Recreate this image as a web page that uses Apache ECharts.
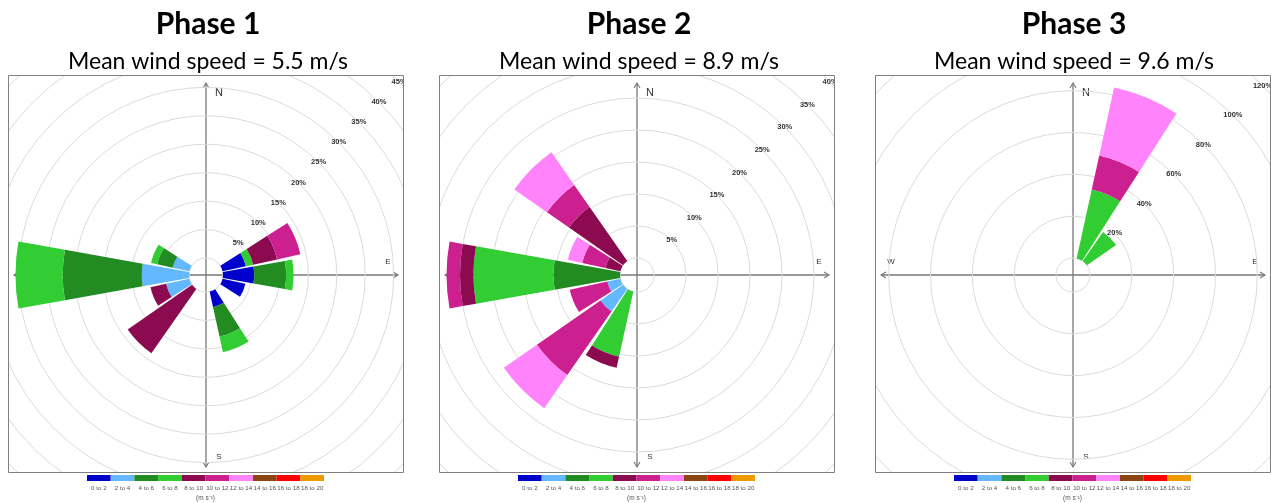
<!DOCTYPE html>
<html>
<head>
<meta charset="utf-8">
<script src="https://cdn.jsdelivr.net/npm/echarts@6/dist/echarts.min.js"></script>
<style>
  body { margin: 0; background: #fff; }
  #page { position: relative; width: 1271px; height: 503px; }
  .box { position: absolute; top: 75px; width: 396px; height: 398px; }
</style>
</head>
<body>
<div id="page">
  <div id="bg" style="position:absolute;left:0;top:0;width:1271px;height:503px"></div>
  <div id="rose1" class="box" style="left:8px"></div>
  <div id="rose2" class="box" style="left:439px"></div>
  <div id="rose3" class="box" style="left:875px"></div>
</div>
<script>
const directions = ["N", "NNE", "NE", "ENE", "E", "ESE", "SE", "SSE", "S", "SSW", "SW", "WSW", "W", "WNW", "NW", "NNW"];
const speedBins = ["0 to 2", "2 to 4", "4 to 6", "6 to 8", "8 to 10", "10 to 12", "12 to 14", "14 to 16", "16 to 18", "18 to 20"];
const binColors = ["#0000cd", "#63b8ff", "#228b22", "#32cd32", "#8b0a50", "#cd2090", "#ff83fa", "#8b4513", "#ff0000", "#ee9a00"];

const phaseTitles = ["Phase 1", "Phase 2", "Phase 3"];
const meanSpeeds = ["5.5", "8.9", "9.6"];
const radiusMax = [45, 40, 120]; // %
const radiusStep = [5, 5, 20];

// frequency (%) per direction (N..NNW), one row per speed bin
const phase1Freq = [
  [0, 0, 0, 4.2, 5.5, 4.1, 0, 2.8, 0, 0, 0, 0, 0, 0, 0, 0],
  [0, 0, 0, 0, 0, 0, 0, 0, 0, 0, 0, 4.2, 8.3, 3.0, 0, 0],
  [0, 0, 0, 0, 5.6, 0, 0, 5.3, 0, 0, 0, 0, 13.9, 2.8, 0, 0],
  [0, 0, 0, 1.3, 1.3, 0, 0, 2.8, 0, 0, 0, 0, 8.3, 1.1, 0, 0],
  [0, 0, 0, 4.3, 0, 0, 0, 0, 0, 0, 13.8, 2.8, 0, 0, 0, 0],
  [0, 0, 0, 4.2, 0, 0, 0, 0, 0, 0, 0, 0, 0, 0, 0, 0],
  [0, 0, 0, 0, 0, 0, 0, 0, 0, 0, 0, 0, 0, 0, 0, 0],
  [0, 0, 0, 0, 0, 0, 0, 0, 0, 0, 0, 0, 0, 0, 0, 0],
  [0, 0, 0, 0, 0, 0, 0, 0, 0, 0, 0, 0, 0, 0, 0, 0],
  [0, 0, 0, 0, 0, 0, 0, 0, 0, 0, 0, 0, 0, 0, 0, 0]
];
const phase2Freq = [
  [0, 0, 0, 0, 0, 0, 0, 0, 0, 0, 0, 0, 0, 0, 0, 0],
  [0, 0, 0, 0, 0, 0, 0, 0, 0, 0, 4.3, 2.1, 0, 0, 0, 0],
  [0, 0, 0, 0, 0, 0, 0, 0, 0, 0, 0, 0, 10.4, 0, 0, 0],
  [0, 0, 0, 0, 0, 0, 0, 0, 0, 10.4, 0, 0, 12.5, 0, 0, 0],
  [0, 0, 0, 0, 0, 0, 0, 0, 0, 1.8, 0, 0, 2.1, 2.4, 10.3, 0],
  [0, 0, 0, 0, 0, 0, 0, 0, 0, 0, 12.1, 6.0, 2.1, 3.7, 4.2, 0],
  [0, 0, 0, 0, 0, 0, 0, 0, 0, 0, 6.3, 0, 0, 2.3, 6.2, 0],
  [0, 0, 0, 0, 0, 0, 0, 0, 0, 0, 0, 0, 0, 0, 0, 0],
  [0, 0, 0, 0, 0, 0, 0, 0, 0, 0, 0, 0, 0, 0, 0, 0],
  [0, 0, 0, 0, 0, 0, 0, 0, 0, 0, 0, 0, 0, 0, 0, 0]
];
const phase3Freq = [
  [0, 0, 0, 0, 0, 0, 0, 0, 0, 0, 0, 0, 0, 0, 0, 0],
  [0, 0, 0, 0, 0, 0, 0, 0, 0, 0, 0, 0, 0, 0, 0, 0],
  [0, 0, 0, 0, 0, 0, 0, 0, 0, 0, 0, 0, 0, 0, 0, 0],
  [0, 33.7, 17.0, 0, 0, 0, 0, 0, 0, 0, 0, 0, 0, 0, 0, 0],
  [0, 0, 0, 0, 0, 0, 0, 0, 0, 0, 0, 0, 0, 0, 0, 0],
  [0, 16.7, 0, 0, 0, 0, 0, 0, 0, 0, 0, 0, 0, 0, 0, 0],
  [0, 33.2, 0, 0, 0, 0, 0, 0, 0, 0, 0, 0, 0, 0, 0, 0],
  [0, 0, 0, 0, 0, 0, 0, 0, 0, 0, 0, 0, 0, 0, 0, 0],
  [0, 0, 0, 0, 0, 0, 0, 0, 0, 0, 0, 0, 0, 0, 0, 0],
  [0, 0, 0, 0, 0, 0, 0, 0, 0, 0, 0, 0, 0, 0, 0, 0]
];

const cx = 198, cy = 200;   // rose centre inside each box
const arm = 192;            // half length of the compass cross

function compass() {
  const line = (x1, y1, x2, y2) => ({
    type: "line", shape: { x1, y1, x2, y2 },
    style: { stroke: "#777", lineWidth: 1.3 }
  });
  const head = (pts) => ({
    type: "polyline", shape: { points: pts },
    style: { stroke: "#777", lineWidth: 1.1, fill: null }
  });
  const label = (x, y, t, size) => ({
    type: "text", x, y,
    style: { text: t, fontSize: size, fill: "#333", align: "center", verticalAlign: "middle", fontFamily: "Liberation Sans" }
  });
  return [
    { type: "rect", shape: { x: 0.5, y: 0.5, width: 395, height: 397 }, style: { fill: null, stroke: "#808080", lineWidth: 1 }, z: 10 },
    line(cx, cy - arm, cx, cy + arm),
    line(cx - arm, cy, cx + arm, cy),
    head([[cx - 3, cy - arm + 5], [cx, cy - arm], [cx + 3, cy - arm + 5]]),
    head([[cx - 3, cy + arm - 5], [cx, cy + arm], [cx + 3, cy + arm - 5]]),
    head([[cx + arm - 5, cy - 3], [cx + arm, cy], [cx + arm - 5, cy + 3]]),
    head([[cx - arm + 5, cy - 3], [cx - arm, cy], [cx - arm + 5, cy + 3]]),
    label(cx + 13, cy - 182, "N", 11),
    label(cx + 182, cy - 13, "E", 8),
    label(cx + 13, cy + 182, "S", 8),
    label(cx - 182, cy - 13, "W", 8)
  ];
}

function roseOption(freq, max, step, outer) {
  return {
    animation: false,
    graphic: compass(),
    polar: [
      { center: [cx, cy], radius: [17, outer] },
      { center: [cx, cy], radius: [17, outer] }
    ],
    angleAxis: [
      {
        polarIndex: 0, type: "category", data: directions, startAngle: 101.25, clockwise: true,
        axisLine: { show: false }, axisTick: { show: false }, axisLabel: { show: false }, splitLine: { show: false }
      },
      {
        polarIndex: 1, type: "value", min: 0, max: 360, startAngle: 45,
        axisLine: { show: false }, axisTick: { show: false }, axisLabel: { show: false }, splitLine: { show: false }
      }
    ],
    radiusAxis: [
      {
        polarIndex: 0, type: "value", min: 0, max: max, interval: step,
        axisLine: { show: false }, axisTick: { show: false }, axisLabel: { show: false },
        splitLine: { show: true, lineStyle: { color: "#dadada", width: 1 } }
      },
      {
        polarIndex: 1, type: "value", min: 0, max: max, interval: step,
        axisLine: { show: false }, axisTick: { show: false }, splitLine: { show: false },
        axisLabel: {
          showMinLabel: false, formatter: "{value}%", margin: 0, rotate: 0,
          align: "center", verticalAlign: "middle",
          fontSize: 7.5, fontWeight: "bold", color: "#333", fontFamily: "Liberation Sans"
        }
      }
    ],
    series: speedBins.map((bin, i) => ({
      type: "bar",
      name: bin,
      coordinateSystem: "polar",
      polarIndex: 0,
      stack: "ws",
      barCategoryGap: "10%",
      data: freq[i],
      itemStyle: { color: binColors[i] }
    }))
  };
}

const titleX = [208, 639, 1074];
const keyLeft = [87, 518, 954];

const bg = echarts.init(document.getElementById("bg"));
bg.setOption({
  animation: false,
  title: phaseTitles.map((t, i) => ({
    text: t,
    subtext: "Mean wind speed = " + meanSpeeds[i] + " m/s",
    left: titleX[i],
    top: 9,
    textAlign: "center",
    padding: 0,
    itemGap: 11,
    textStyle: { fontFamily: "Lato", fontWeight: "bold", fontSize: 30, color: "#000" },
    subtextStyle: { fontFamily: "Lato", fontSize: 23, color: "#000" }
  })),
  grid: keyLeft.map((l) => ({ left: l, top: 475, width: 237, height: 8 })),
  xAxis: keyLeft.map((l, i) => ({
    gridIndex: i,
    type: "category",
    data: speedBins,
    axisLine: { show: false },
    axisTick: { show: false },
    axisLabel: { interval: 0, fontSize: 6.2, color: "#555", margin: 4, fontFamily: "Liberation Sans" },
    name: "(m s\u207B\u00B9)",
    nameLocation: "middle",
    nameGap: 14,
    nameTextStyle: { fontSize: 6.5, color: "#555", fontFamily: "Liberation Sans" }
  })),
  yAxis: keyLeft.map((l, i) => ({ gridIndex: i, show: false, min: 0, max: 1 })),
  series: keyLeft.map((l, i) => ({
    type: "bar",
    xAxisIndex: i,
    yAxisIndex: i,
    barCategoryGap: 0,
    silent: true,
    data: speedBins.map((b, j) => ({ value: 1, itemStyle: { color: binColors[j] } }))
  }))
});

const freqs = [phase1Freq, phase2Freq, phase3Freq];
const outerR = [273, 273, 268];
freqs.forEach((f, i) => {
  const chart = echarts.init(document.getElementById("rose" + (i + 1)));
  chart.setOption(roseOption(f, radiusMax[i], radiusStep[i], outerR[i]));
});
</script>
</body>
</html>
